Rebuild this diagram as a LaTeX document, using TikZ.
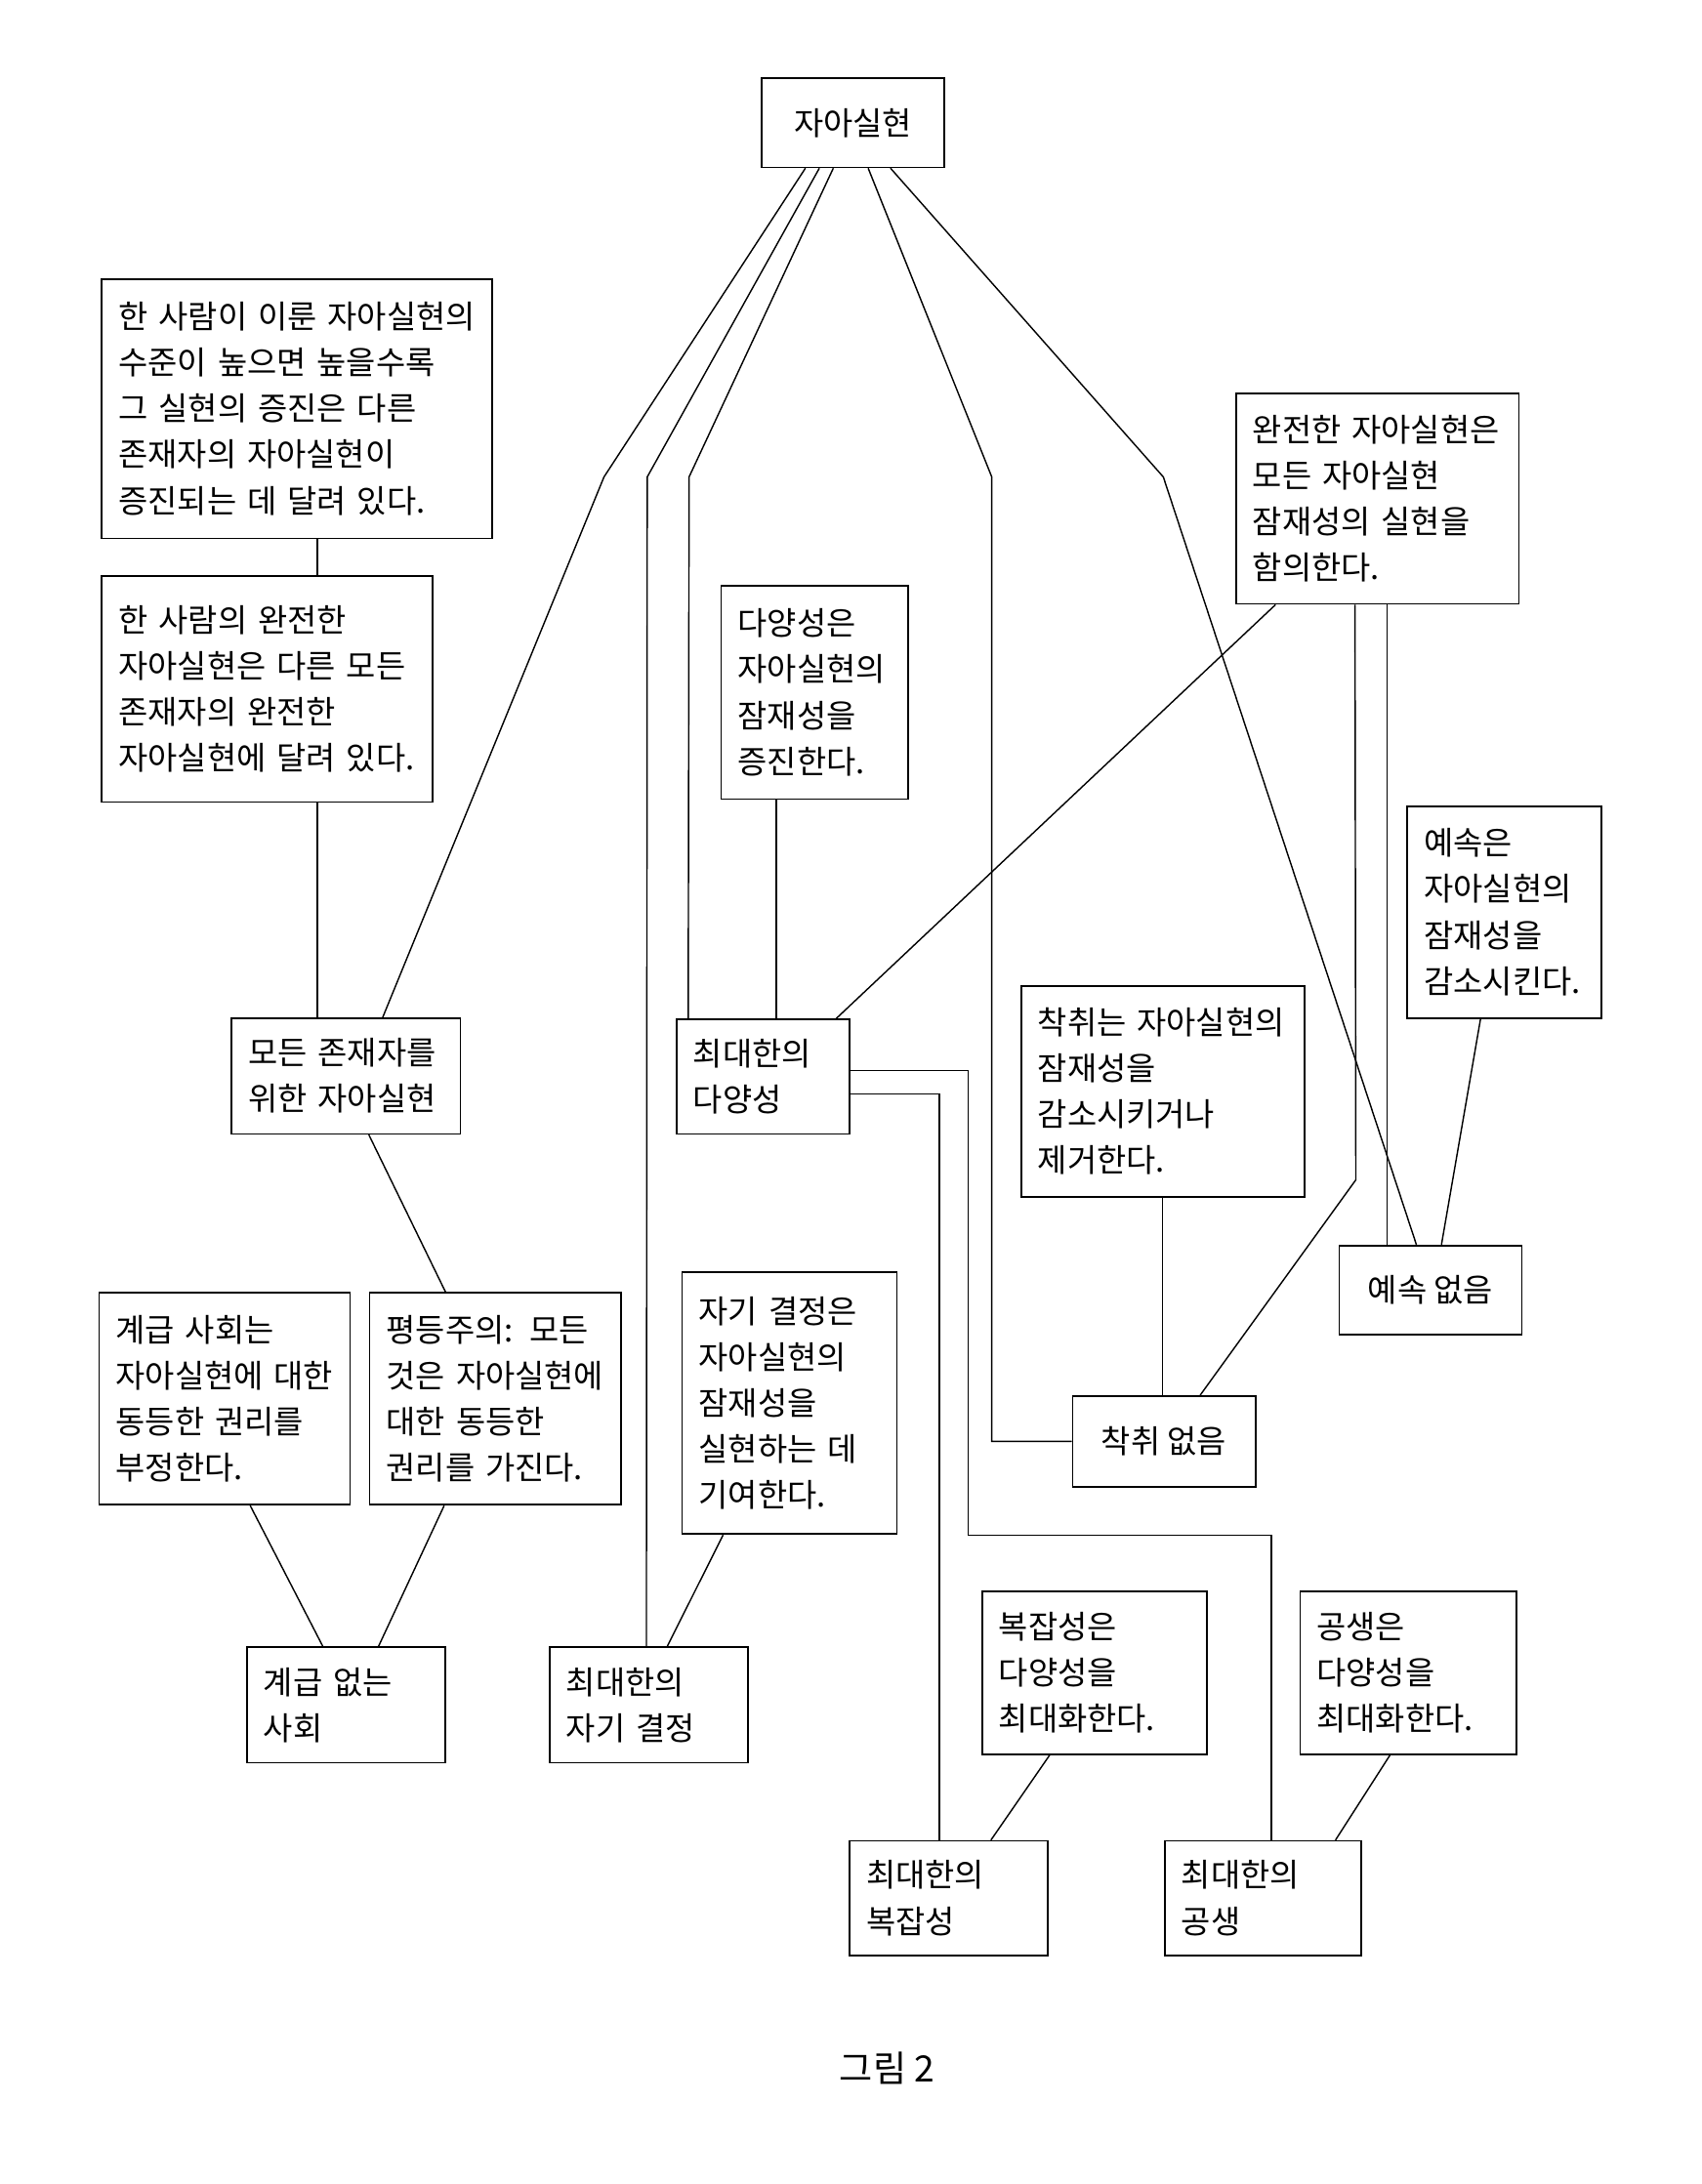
\documentclass[tikz,border=0pt]{standalone}
\usepackage{fontspec}
\setmainfont{Noto Sans CJK KR}
\begin{document}
\begin{tikzpicture}[x=1pt,y=-1pt,
  box/.style={draw, line width=1.2pt, inner xsep=12pt, inner ysep=0pt, align=left,
    font=\fontsize{23}{33}\selectfont},
  cbox/.style={draw, line width=1.2pt, inner sep=0pt, align=center,
    font=\fontsize{23}{33}\selectfont},
  conn/.style={line width=1pt}]
\useasboundingbox (0,0) rectangle (1220,1566);
% boxes
\node[cbox, minimum width=131pt, minimum height=64pt] (T) at (611.5,88) {자아실현};
\node[box, text width=256pt, minimum height=186pt] (A) at (213,293) {한 사람이 이룬 자아실현의\\수준이 높으면 높을수록\\그 실현의 증진은 다른\\존재자의 자아실현이\\증진되는 데 달려 있다.};
\node[box, text width=213pt, minimum height=162pt] (B) at (191.5,494) {한 사람의 완전한\\자아실현은 다른 모든\\존재자의 완전한\\자아실현에 달려 있다.};
\node[box, text width=140pt, minimum height=83pt] (C) at (248,771.5) {모든 존재자를\\위한 자아실현};
\node[box, text width=156pt, minimum height=152pt] (D) at (161,1003) {계급 사회는\\자아실현에 대한\\동등한 권리를\\부정한다.};
\node[box, text width=156pt, minimum height=152pt] (E) at (355,1003) {평등주의: 모든\\것은 자아실현에\\대한 동등한\\권리를 가진다.};
\node[box, text width=118pt, minimum height=83pt] (F) at (248,1222.5) {계급 없는\\사회};
\node[box, text width=118pt, minimum height=83pt] (G) at (465,1222.5) {최대한의\\자기 결정};
\node[box, text width=130pt, minimum height=188pt] (H) at (566,1006) {자기 결정은\\자아실현의\\잠재성을\\실현하는 데\\기여한다.};
\node[box, text width=110pt, minimum height=153pt] (I) at (584,496.5) {다양성은\\자아실현의\\잠재성을\\증진한다.};
\node[box, text width=100pt, minimum height=82pt] (J) at (547,772) {최대한의\\다양성};
\node[box, text width=179pt, minimum height=151pt] (K) at (987.5,357.5) {완전한 자아실현은\\모든 자아실현\\잠재성의 실현을\\함의한다.};
\node[box, text width=115pt, minimum height=152pt] (L) at (1078.5,654) {예속은\\자아실현의\\잠재성을\\감소시킨다.};
\node[box, text width=179pt, minimum height=151pt] (M) at (833.5,782.5) {착취는 자아실현의\\잠재성을\\감소시키거나\\제거한다.};
\node[cbox, minimum width=131pt, minimum height=64pt] (N) at (1025.5,925) {예속 없음};
\node[cbox, minimum width=131pt, minimum height=65pt] (O) at (834.5,1033.5) {착취 없음};
\node[box, text width=137pt, minimum height=117pt] (P) at (784.5,1199.5) {복잡성은\\다양성을\\최대화한다.};
\node[box, text width=131pt, minimum height=117pt] (Q) at (1009.5,1199.5) {공생은\\다양성을\\최대화한다.};
\node[box, text width=118pt, minimum height=82pt] (R) at (680,1361) {최대한의\\복잡성};
\node[box, text width=117pt, minimum height=82pt] (S) at (905.5,1361) {최대한의\\공생};
\node[font=\fontsize{26}{30}\selectfont] (cap) at (636,1483) {그림 2};
% connectors
\draw[conn] ([xshift=32pt]T.south west) -- (433,342) -- ([xshift=109pt]C.north west);
\draw[conn] ([xshift=42pt]T.south west) -- (464,342) -- ([xshift=70pt]G.north west);
\draw[conn] ([xshift=52pt]T.south west) -- (494,342) -- ([xshift=9pt]J.north west);
\draw[conn] ([xshift=77pt]T.south west) -- (711,342) |- (O.west);
\draw[conn] ([xshift=93pt]T.south west) -- (834,342) -- ([xshift=56pt]N.north west);
\draw[conn] ([xshift=155pt]A.south west) -- ([xshift=155pt]B.north west);
\draw[conn] ([xshift=155pt]B.south west) -- ([xshift=62pt]C.north west);
\draw[conn] ([xshift=99pt]C.south west) -- ([xshift=55pt]E.north west);
\draw[conn] ([xshift=109pt]D.south west) -- ([xshift=55pt]F.north west);
\draw[conn] ([xshift=54pt]E.south west) -- ([xshift=95pt]F.north west);
\draw[conn] ([xshift=30pt]H.south west) -- ([xshift=85pt]G.north west);
\draw[conn] ([xshift=40pt]I.south west) -- ([xshift=72pt]J.north west);
\draw[conn] ([xshift=29pt]K.south west) -- ([xshift=115pt]J.north west);
\draw[conn] ([xshift=86pt]K.south west) -- (972,846) -- ([xshift=92pt]O.north west);
\draw[conn] ([xshift=109pt]K.south west) -- ([xshift=35pt]N.north west);
\draw[conn] ([xshift=53pt]L.south west) -- ([xshift=74pt]N.north west);
\draw[conn] ([xshift=102pt]M.south west) -- ([xshift=65pt]O.north west);
\draw[conn] ([yshift=-37pt]J.north east) -| (694,1101) -| ([xshift=77pt]S.north west);
\draw[conn] ([yshift=-54pt]J.north east) -| ([xshift=65pt]R.north west);
\draw[conn] ([xshift=49pt]P.south west) -- ([xshift=102pt]R.north west);
\draw[conn] ([xshift=65pt]Q.south west) -- ([xshift=123pt]S.north west);
\end{tikzpicture}
\end{document}
